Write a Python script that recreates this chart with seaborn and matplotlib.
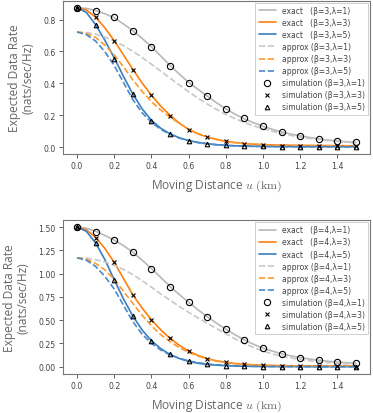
import numpy as np
import pandas as pd
import matplotlib
matplotlib.use("Agg")
import matplotlib.pyplot as plt
import seaborn as sns

sns.set_style("ticks")
plt.rcParams["font.family"] = ["DejaVu Sans"]
plt.rcParams["mathtext.fontset"] = "cm"

# ---------- data ----------
u_line = np.linspace(0, 1.5, 31)
u_sim = np.linspace(0, 1.5, 16)

# beta = 3
exact3_l1 = [0.875, 0.870, 0.857, 0.836, 0.812, 0.772, 0.730, 0.682, 0.630, 0.572, 0.512,
             0.458, 0.406, 0.362, 0.320, 0.278, 0.240, 0.206, 0.177, 0.152, 0.130, 0.111,
             0.095, 0.081, 0.070, 0.060, 0.051, 0.044, 0.038, 0.033, 0.029]
exact3_l3 = [0.875, 0.860, 0.815, 0.748, 0.668, 0.578, 0.488, 0.402, 0.325, 0.257, 0.200,
             0.150, 0.110, 0.083, 0.063, 0.048, 0.036, 0.028, 0.022, 0.018, 0.015, 0.013,
             0.012, 0.011, 0.010, 0.010, 0.009, 0.009, 0.008, 0.008, 0.008]
exact3_l5 = [0.875, 0.845, 0.768, 0.670, 0.560, 0.443, 0.333, 0.240, 0.168, 0.118, 0.083,
             0.058, 0.041, 0.029, 0.021, 0.015, 0.011, 0.008, 0.006, 0.005, 0.004, 0.003,
             0.003, 0.003, 0.002, 0.002, 0.002, 0.002, 0.002, 0.002, 0.002]
approx3_l1 = [0.722, 0.719, 0.708, 0.690, 0.666, 0.636, 0.601, 0.562, 0.520, 0.477, 0.433,
              0.389, 0.347, 0.307, 0.270, 0.236, 0.205, 0.178, 0.154, 0.133, 0.115, 0.099,
              0.085, 0.073, 0.063, 0.054, 0.047, 0.040, 0.035, 0.030, 0.026]
approx3_l3 = [0.722, 0.713, 0.688, 0.640, 0.578, 0.503, 0.422, 0.349, 0.285, 0.232, 0.188,
              0.148, 0.113, 0.085, 0.063, 0.047, 0.035, 0.027, 0.021, 0.017, 0.014, 0.012,
              0.011, 0.010, 0.009, 0.009, 0.008, 0.008, 0.007, 0.007, 0.007]
approx3_l5 = [0.722, 0.706, 0.665, 0.598, 0.512, 0.405, 0.298, 0.215, 0.155, 0.111, 0.079,
              0.056, 0.040, 0.028, 0.020, 0.014, 0.010, 0.007, 0.005, 0.004, 0.003, 0.003,
              0.002, 0.002, 0.002, 0.002, 0.002, 0.001, 0.001, 0.001, 0.001]
sim3_l1 = [0.875, 0.855, 0.817, 0.729, 0.628, 0.509, 0.404, 0.322, 0.241, 0.184, 0.130,
           0.096, 0.071, 0.050, 0.038, 0.029]
sim3_l3 = [0.875, 0.813, 0.664, 0.484, 0.325, 0.197, 0.107, 0.061, 0.036, 0.021, 0.012,
           0.008, 0.006, 0.005, 0.004, 0.004]
sim3_l5 = [0.875, 0.764, 0.555, 0.331, 0.165, 0.084, 0.040, 0.021, 0.011, 0.006, 0.004,
           0.003, 0.002, 0.002, 0.001, 0.001]

# beta = 4
exact4_l1 = [1.500, 1.488, 1.455, 1.410, 1.360, 1.300, 1.230, 1.145, 1.055, 0.960, 0.862,
             0.775, 0.692, 0.612, 0.538, 0.468, 0.404, 0.343, 0.288, 0.240, 0.200, 0.168,
             0.140, 0.117, 0.098, 0.083, 0.070, 0.059, 0.050, 0.043, 0.038]
exact4_l3 = [1.500, 1.470, 1.390, 1.270, 1.120, 0.948, 0.772, 0.630, 0.505, 0.397, 0.306,
             0.230, 0.168, 0.122, 0.088, 0.064, 0.047, 0.035, 0.027, 0.021, 0.017, 0.014,
             0.012, 0.011, 0.010, 0.009, 0.009, 0.008, 0.008, 0.008, 0.008]
exact4_l5 = [1.500, 1.455, 1.330, 1.150, 0.935, 0.728, 0.545, 0.395, 0.280, 0.195, 0.132,
             0.089, 0.058, 0.038, 0.025, 0.017, 0.012, 0.008, 0.006, 0.004, 0.003, 0.002,
             0.002, 0.002, 0.002, 0.001, 0.001, 0.001, 0.001, 0.001, 0.001]
approx4_l1 = [1.170, 1.166, 1.150, 1.125, 1.090, 1.045, 0.990, 0.925, 0.855, 0.782, 0.715,
              0.648, 0.585, 0.525, 0.467, 0.410, 0.355, 0.300, 0.250, 0.205, 0.168, 0.138,
              0.114, 0.094, 0.078, 0.065, 0.054, 0.045, 0.038, 0.032, 0.027]
approx4_l3 = [1.170, 1.155, 1.110, 1.040, 0.940, 0.810, 0.680, 0.555, 0.440, 0.345, 0.270,
              0.205, 0.155, 0.115, 0.084, 0.061, 0.045, 0.033, 0.025, 0.019, 0.015, 0.013,
              0.011, 0.010, 0.009, 0.009, 0.008, 0.008, 0.007, 0.007, 0.007]
approx4_l5 = [1.170, 1.145, 1.078, 0.970, 0.835, 0.660, 0.485, 0.350, 0.253, 0.180, 0.128,
              0.090, 0.063, 0.044, 0.030, 0.021, 0.015, 0.010, 0.007, 0.005, 0.004, 0.003,
              0.003, 0.002, 0.002, 0.002, 0.001, 0.001, 0.001, 0.001, 0.001]
sim4_l1 = [1.500, 1.447, 1.365, 1.234, 1.052, 0.860, 0.693, 0.537, 0.402, 0.284, 0.199,
           0.142, 0.096, 0.071, 0.050, 0.039]
sim4_l3 = [1.500, 1.386, 1.120, 0.771, 0.505, 0.306, 0.167, 0.085, 0.046, 0.025, 0.015,
           0.010, 0.007, 0.005, 0.004, 0.003]
sim4_l5 = [1.500, 1.330, 0.935, 0.545, 0.281, 0.132, 0.057, 0.025, 0.012, 0.006, 0.003,
           0.002, 0.001, 0.001, 0.001, 0.001]

lambdas = [1, 3, 5]
exact_colors = ["#b8b8b8", "#ff7f0e", "#3a7ebf"]
approx_colors = ["#c8c8c8", "#ff9a30", "#4a88c6"]
sim_markers = ["o", "x", "^"]
sim_sizes = [4.5, 3.2, 3.3]

panels = [
    (3, [exact3_l1, exact3_l3, exact3_l5], [approx3_l1, approx3_l3, approx3_l5],
     [sim3_l1, sim3_l3, sim3_l5]),
    (4, [exact4_l1, exact4_l3, exact4_l5], [approx4_l1, approx4_l3, approx4_l5],
     [sim4_l1, sim4_l3, sim4_l5]),
]

fig = plt.figure(figsize=(3.73, 4.14), dpi=100)
ax_top = fig.add_axes([0.169, 0.626, 0.823, 0.370])
ax_bot = fig.add_axes([0.169, 0.095, 0.823, 0.371])

for ax, (beta, exacts, approxs, sims) in zip([ax_top, ax_bot], panels):
    for lam, vals, col in zip(lambdas, exacts, exact_colors):
        sns.lineplot(x=u_line, y=vals, ax=ax, color=col, linewidth=1.2,
                     label=f"exact   (β={beta},λ={lam})")
    for lam, vals, col in zip(lambdas, approxs, approx_colors):
        sns.lineplot(x=u_line, y=vals, ax=ax, color=col, linewidth=1.2, linestyle="--",
                     label=f"approx (β={beta},λ={lam})")
    for lam, vals, mk, ms in zip(lambdas, sims, sim_markers, sim_sizes):
        sns.lineplot(x=u_sim, y=vals, ax=ax, linestyle="", marker=mk, markersize=ms,
                     markerfacecolor="none", markeredgecolor="black", markeredgewidth=0.8,
                     color="black", label=f"simulation (β={beta},λ={lam})")

    ax.set_xticks([0.0, 0.2, 0.4, 0.6, 0.8, 1.0, 1.2, 1.4])
    ax.tick_params(labelsize=5.6, colors="#444444", length=3, width=0.6, pad=2.5)
    for sp in ax.spines.values():
        sp.set_color("#777777")
        sp.set_linewidth(0.8)
    ax.set_xlabel(r"Moving Distance $u\ \mathrm{(km)}$", fontsize=8.6, color="#666666",
                  family="Open Sans", labelpad=5)
    ax.set_ylabel("Expected Data Rate\n(nats/sec/Hz)", fontsize=8.6, color="#666666",
                  family="Open Sans", labelpad=6, linespacing=1.1)
    leg = ax.legend(loc="upper right", fontsize=5.5, frameon=True, handlelength=2.2,
                    labelspacing=0.4, borderpad=0.45, borderaxespad=0.25, fancybox=False)
    leg.get_frame().set_edgecolor("#bbbbbb")
    leg.get_frame().set_linewidth(0.6)
    for t in leg.get_texts():
        t.set_color("#444444")

ax_top.set_yticks([0.0, 0.2, 0.4, 0.6, 0.8])
ax_bot.set_yticks([0.0, 0.25, 0.5, 0.75, 1.0, 1.25, 1.5])
ax_bot.yaxis.set_major_formatter(matplotlib.ticker.FormatStrFormatter("%.2f"))

fig.savefig("out.png", dpi=100)
